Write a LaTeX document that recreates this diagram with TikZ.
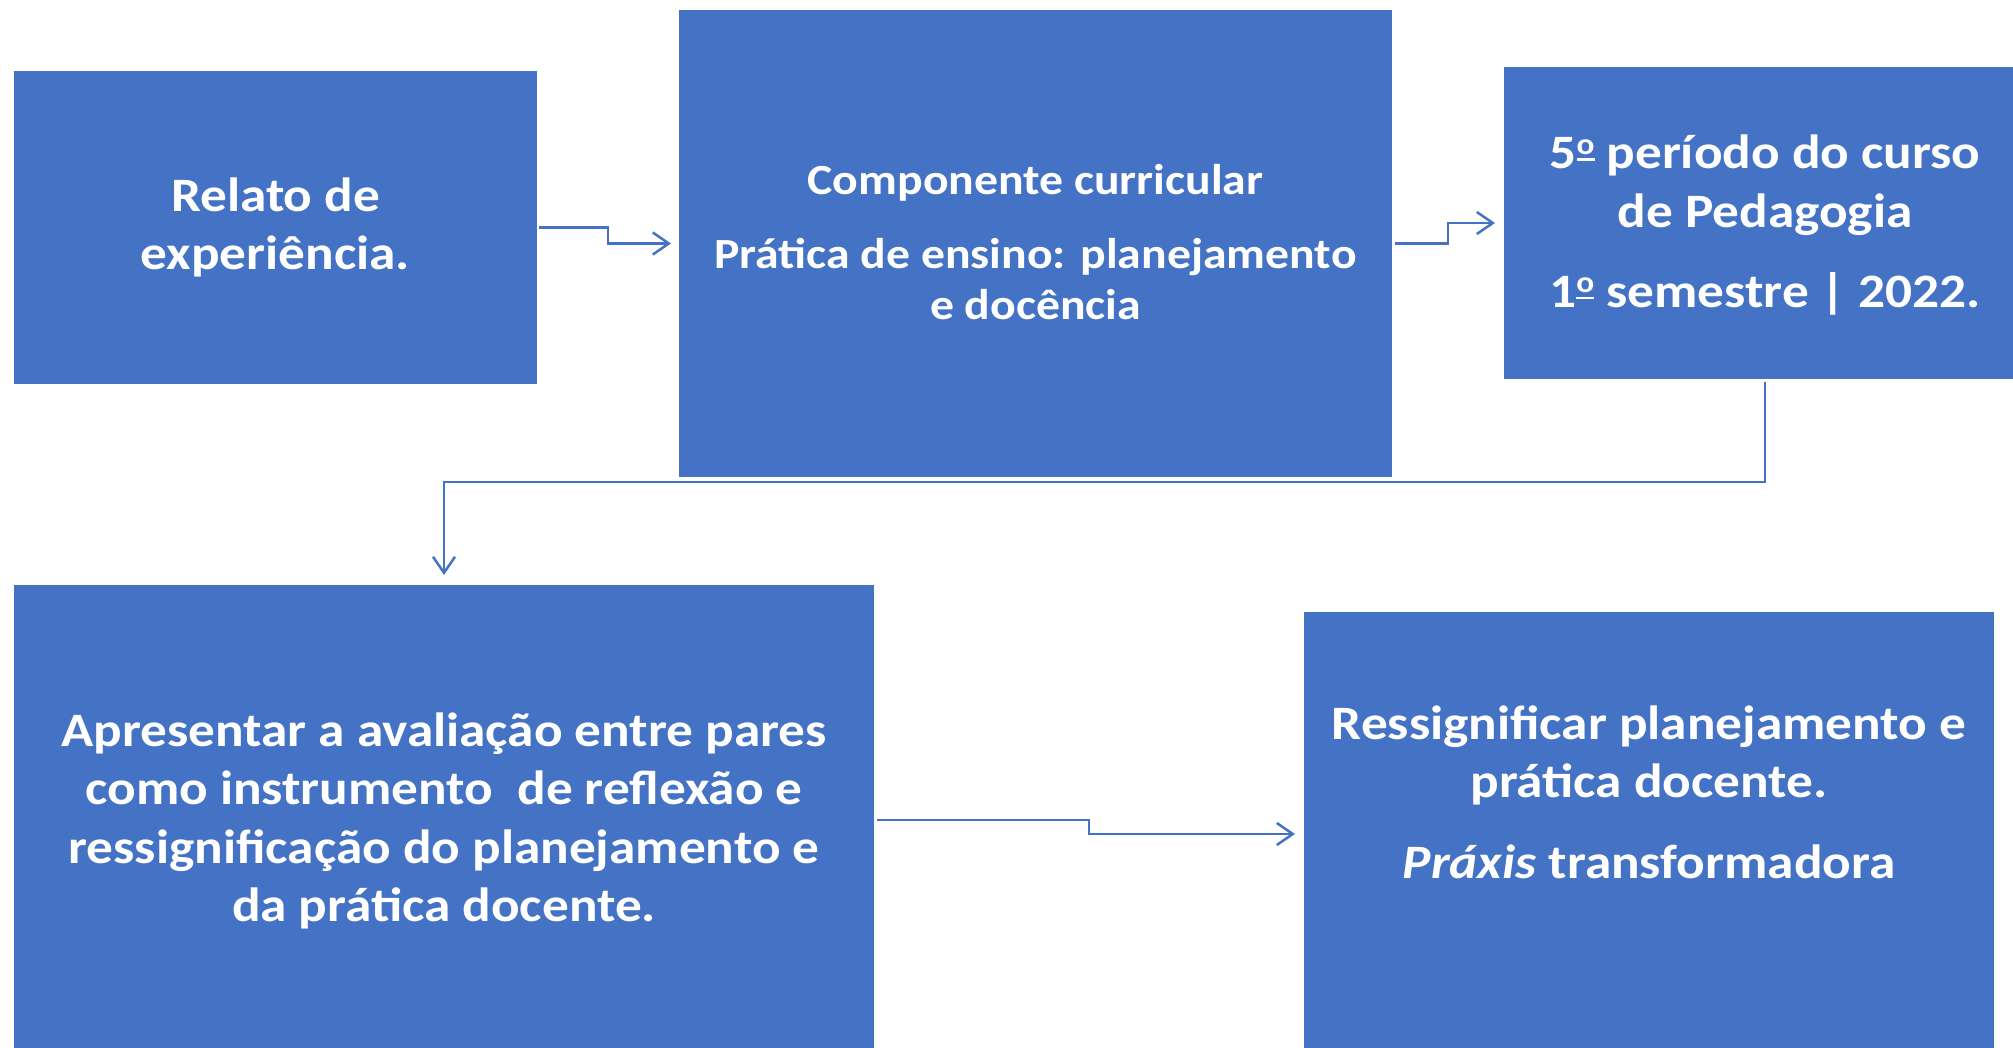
\documentclass[tikz,border=0pt]{standalone}
\usepackage{fontspec}
\setmainfont{Carlito}[FakeStretch=1.11]
\usetikzlibrary{arrows.meta}
\definecolor{boxblue}{HTML}{4472C4}
\newcommand{\ordo}{\raisebox{8pt}{\vbox{\hbox{\fontsize{30}{30}\selectfont o}\kern3.5pt\hrule height 2.5pt}}}
\tikzset{
  box/.style={fill=boxblue, draw=none, inner sep=0pt, outer sep=0pt, rectangle},
  txt/.style={text=white, align=center, inner sep=0pt, font=\bfseries\fontsize{48}{58.6}\selectfont},
  txtsmall/.style={text=white, align=center, inner sep=0pt, font=\bfseries\fontsize{43}{51}\selectfont},
  conn/.style={draw=boxblue, line width=2.5pt, -{Straight Barb[length=16pt,width=22pt]}}
}
\begin{document}
\begin{tikzpicture}[x=1pt,y=-1pt]
\useasboundingbox (0,0) rectangle (2013,1048);
% boxes
\node[box, minimum width=523pt, minimum height=313pt] (b1) at (275.5,227.5) {};
\node[box, minimum width=713pt, minimum height=467pt] (b2) at (1035.5,243.5) {};
\node[box, minimum width=522pt, minimum height=312pt] (b3) at (1765,223) {};
\node[box, minimum width=860pt, minimum height=470pt] (b4) at (444,820) {};
\node[box, minimum width=690pt, minimum height=444pt] (b5) at (1649,834) {};
% texts
\node[txt] (t1) at (b1.center) {Relato de\\ experiência.};
\node[txtsmall] (t2) at ([yshift=1pt]b2.center) {Componente curricular\\[23pt] Prática de ensino: planejamento\\ e docência};
\node[txt] (t3) at ([yshift=-2pt]b3.center) {5\ordo{} período do curso\\ de Pedagogia\\[21pt] 1\ordo{} semestre | 2022.};
\node[txt] (t4) at ([yshift=-1pt]b4.center) {Apresentar a avaliação entre pares\\ como instrumento\ \ de reflexão e\\ ressignificação do planejamento e\\ da prática docente.};
\node[txt] (t5) at ([yshift=42pt]b5.center) {Ressignificar planejamento e\\ prática docente.\\[22pt] \textit{Práxis} transformadora};
% connectors
\coordinate (m3) at (1765,482);
\draw[conn, shorten <=2pt, shorten >=8pt] (b1.east) -- ++(71,0) |- (b2.west);
\draw[conn, shorten <=3pt, shorten >=9pt] (b2.east) -- ++(56,0) |- (b3.west);
\draw[conn, shorten <=3pt, shorten >=10pt] (b3.south) -- (m3) -| (b4.north);
\draw[conn, shorten <=3pt, shorten >=9pt] (b4.east) -- ++(215,0) |- (b5.west);
\end{tikzpicture}
\end{document}
